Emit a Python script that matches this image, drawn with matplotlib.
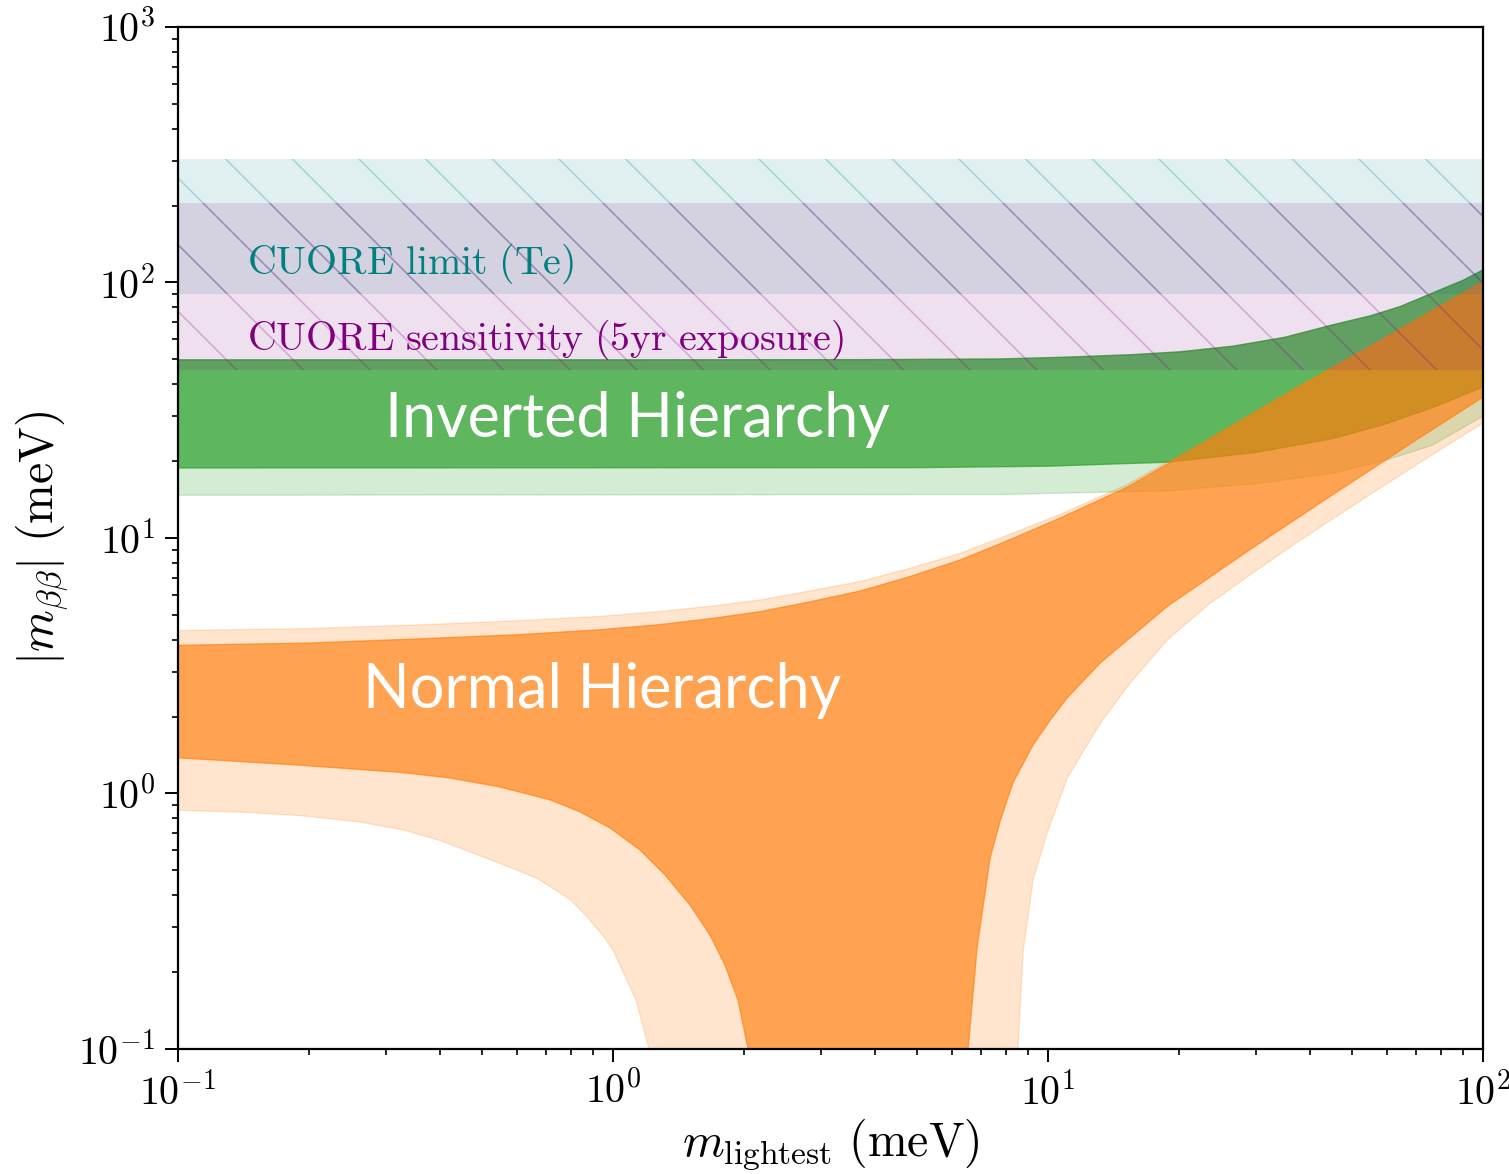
import numpy as np
import matplotlib
matplotlib.use('Agg')
import matplotlib.pyplot as plt

# high dpi so that the default hatch spacing matches the wide diagonal lines
DPI = 400
plt.rcParams.update({
    'font.family': 'serif',
    'font.serif': ['cmr10'],
    'mathtext.fontset': 'cm',
    'axes.unicode_minus': False,
    'axes.formatter.use_mathtext': True,
    'hatch.linewidth': 0.3,
})

# Normal hierarchy, dark band (meV)
nh_up_x = [0.1, 0.2, 0.36, 0.6, 0.93, 1.28, 1.7, 2.18, 2.8, 3.7, 4.8, 6.28, 8.0,
           10.7, 15.2, 22.3, 36.6, 60, 100]
nh_up_y = [3.80, 3.88, 4.03, 4.18, 4.37, 4.58, 4.85, 5.15, 5.6, 6.2, 7.05, 8.2, 9.7,
           12.0, 15.8, 23.0, 37.9, 61, 101]
nh_lo_x = [0.1, 0.191, 0.324, 0.422, 0.55, 0.717, 0.84, 0.984, 1.154, 1.317, 1.503,
           1.671, 1.809, 1.938, 2.043, 2.1,
           6.4, 6.55, 6.87, 7.36, 7.76, 8.3, 9.24, 10.1, 11.07, 13.2, 18.8, 29.1,
           45.2, 70.5, 100]
nh_lo_y = [1.38, 1.29, 1.21, 1.15, 1.06, 0.944, 0.847, 0.733, 0.601, 0.48, 0.366,
           0.279, 0.213, 0.155, 0.1, 0.05,
           0.05, 0.1, 0.25, 0.56, 0.78, 1.1, 1.55, 1.93, 2.37, 3.25, 5.4, 9.0,
           14.8, 24.3, 35.6]

# Normal hierarchy, light band
nh2_up_x = [0.1, 0.2, 0.36, 0.6, 0.93, 1.28, 1.7, 2.18, 2.8, 3.7, 4.8, 6.28, 8.0,
            10.7, 15.2, 22.3, 36.6, 60, 100]
nh2_up_y = [4.34, 4.42, 4.57, 4.74, 4.93, 5.15, 5.42, 5.72, 6.18, 6.75, 7.6, 8.7, 10.2,
            12.4, 16.2, 23.4, 38.2, 61.3, 101.3]
nh2_lo_x = [0.1, 0.14, 0.19, 0.26, 0.33, 0.40, 0.47, 0.57, 0.67, 0.80, 0.87, 0.95, 1.0,
            1.13, 1.21, 1.25,
            8.4, 8.53, 8.76, 9.24, 9.95, 11.07, 13.2, 15.5, 18.8, 23.4, 29.1, 36.3,
            45.2, 57, 70.5, 84, 100]
nh2_lo_y = [0.86, 0.845, 0.82, 0.775, 0.72, 0.655, 0.59, 0.52, 0.465, 0.383, 0.33, 0.277,
            0.244, 0.155, 0.1, 0.05,
            0.05, 0.1, 0.24, 0.46, 0.70, 1.15, 1.89, 2.73, 3.99, 5.5, 7.16, 9.3,
            11.9, 15.4, 19.4, 23.4, 28.2]

# Inverted hierarchy
ih_up_x = [0.1, 1, 4, 7.76, 11, 15.7, 20, 26.6, 35, 45.2, 55, 64.4, 79.6, 90, 100]
ih_up_y = [49.8, 49.8, 49.9, 50.2, 51.0, 52.2, 53.5, 56.3, 61, 68.3, 74, 80.4, 93.5, 102, 112]
ih_lo_x = [0.1, 5, 10, 18.8, 30, 45.2, 60, 77, 100]
ih_lo_y = [18.8, 18.85, 19.1, 19.8, 21.6, 24.5, 28.0, 32.5, 39]
ih2_lo_x = [0.1, 7.76, 18.8, 30, 45.2, 60, 76.6, 100]
ih2_lo_y = [14.7, 14.8, 15.3, 16.3, 17.9, 20.2, 23.1, 30.0]

# CUORE bands (meV)
cuore_limit = (90, 304)
cuore_sens = (45.5, 205)

teal = '#008080'
purple = '#800080'


def band(ax, xu, yu, xl, yl, color, alpha, lw):
    xs = list(xu) + list(xl)[::-1]
    ys = list(yu) + list(yl)[::-1]
    ax.fill(xs, ys, facecolor=color, edgecolor=color, alpha=alpha, lw=lw)


fig = plt.figure(figsize=(1509 / DPI, 1174 / DPI), dpi=DPI)
ax = fig.add_axes([0.118, 0.1065, 0.8648, 0.8705])
ax.set_xscale('log')
ax.set_yscale('log')
ax.set_xlim(0.1, 100)
ax.set_ylim(0.1, 1000)

band(ax, ih_up_x, ih_up_y, ih2_lo_x, ih2_lo_y, 'tab:green', 0.2, 0.25)
band(ax, ih_up_x, ih_up_y, ih_lo_x, ih_lo_y, 'tab:green', 0.7, 0.25)
band(ax, nh2_up_x, nh2_up_y, nh2_lo_x, nh2_lo_y, 'tab:orange', 0.2, 0.25)
band(ax, nh_up_x, nh_up_y, nh_lo_x, nh_lo_y, 'tab:orange', 0.65, 0.25)

for (lo, hi), c in [(cuore_limit, teal), (cuore_sens, purple)]:
    ax.axhspan(lo, hi, facecolor=c, alpha=0.12, lw=0)
    ax.axhspan(lo, hi, facecolor='none', edgecolor=c, alpha=0.24, lw=0, hatch='\\\\')

ax.text(0.144, 108, r'$\mathrm{CUORE\ limit\ (Te)}$', color=teal, fontsize=7.2,
        va='baseline', ha='left')
ax.text(0.144, 54.5, r'$\mathrm{CUORE\ sensitivity\ (5yr\ exposure)}$', color=purple,
        fontsize=7.2, va='baseline', ha='left')
ax.text(0.299, 24.8, 'Inverted Hierarchy', color='white', fontsize=11,
        family='Lato', va='baseline', ha='left')
ax.text(0.266, 2.16, 'Normal Hierarchy', color='white', fontsize=11,
        family='Lato', va='baseline', ha='left')

ax.set_xlabel(r'$m_{\mathrm{lightest}}\ (\mathrm{meV})$', fontsize=8.6, labelpad=0.8)
ax.set_ylabel(r'$|m_{\beta\beta}|\ (\mathrm{meV})$', fontsize=8.6, labelpad=1.2)

for s in ax.spines.values():
    s.set_linewidth(0.4)
ax.tick_params(which='major', length=2.3, width=0.35, labelsize=7.2, pad=1.8)
ax.tick_params(which='minor', length=1.1, width=0.3)

fig.savefig('out.png', dpi=DPI)
